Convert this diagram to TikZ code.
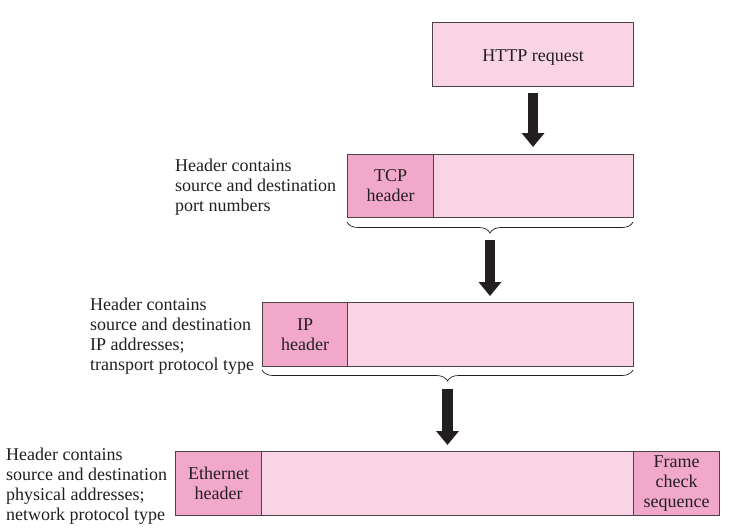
\documentclass[tikz,border=0pt]{standalone}
\usepackage{fontspec}
\setmainfont{Liberation Serif}
\usetikzlibrary{arrows.meta,decorations.pathreplacing,calc}
\definecolor{lpink}{HTML}{F9D4E4}
\definecolor{dpink}{HTML}{F2A8CB}
\definecolor{edge}{HTML}{4A4446}
\definecolor{ink}{HTML}{231F20}
\begin{document}
\begin{tikzpicture}[x=1pt,y=-1pt,
  every node/.style={font=\fontsize{18}{20}\selectfont, text=ink},
  seg/.style={draw=edge, line width=1.1pt, inner sep=0pt, anchor=north west, minimum height=64pt, align=center},
  light/.style={seg, fill=lpink},
  dark/.style={seg, fill=dpink},
  note/.style={anchor=north west, inner sep=0pt, align=left},
  bigarrow/.style={ink, line width=10.5pt, -{Triangle[width=22pt,length=14pt]}},
  bracestyle/.style={draw=ink, line width=0.7pt, decorate, decoration={brace, mirror, amplitude=11pt}}
]
\useasboundingbox (0,0) rectangle (754,530);

% HTTP request
\node[light, minimum width=201pt, label={[yshift=-3pt, inner sep=0pt]center:HTTP request}] (http) at (432,22) {};

% TCP segment
\node[dark, minimum width=86pt, minimum height=63pt] (tcph) at (347,154) {TCP\\header};
\node[light, minimum width=200pt, minimum height=63pt] (tcpd) at (433,154) {};

% IP datagram
\node[dark, minimum width=85pt] (iph) at (262,302) {IP\\header};
\node[light, minimum width=286pt] (ipd) at (347,302) {};

% Ethernet frame
\node[dark, minimum width=86pt] (ethh) at (175,451) {Ethernet\\header};
\node[light, minimum width=372pt] (ethd) at (261,451) {};
\node[dark, minimum width=86pt] (fcs) at (633,451) {Frame\\check\\sequence};

% notes
\node[note] (n1) at (175,159) {Header contains\\source and destination\\port numbers};
\node[note] (n2) at (90,298) {Header contains\\source and destination\\IP addresses;\\transport protocol type};
\node[note] (n3) at (6,448) {Header contains\\source and destination\\physical addresses;\\network protocol type};

% braces
\coordinate (b1l) at (347,222);
\coordinate (b1r) at (633,222);
\draw[bracestyle] (b1l) -- (b1r);
\coordinate (b1tip) at (490,235);
\coordinate (b2l) at (262,370);
\coordinate (b2r) at (633,370);
\draw[bracestyle] (b2l) -- (b2r);
\coordinate (b2tip) at (447.5,383);

% arrows
\draw[bigarrow, shorten <=6pt, shorten >=7pt] (http.south) -- (http.south |- tcpd.north);
\draw[bigarrow, shorten <=5pt, shorten >=6pt] (b1tip) -- (b1tip |- ipd.north);
\draw[bigarrow, shorten <=6pt, shorten >=6pt] (b2tip) -- (b2tip |- ethd.north);
\end{tikzpicture}
\end{document}
